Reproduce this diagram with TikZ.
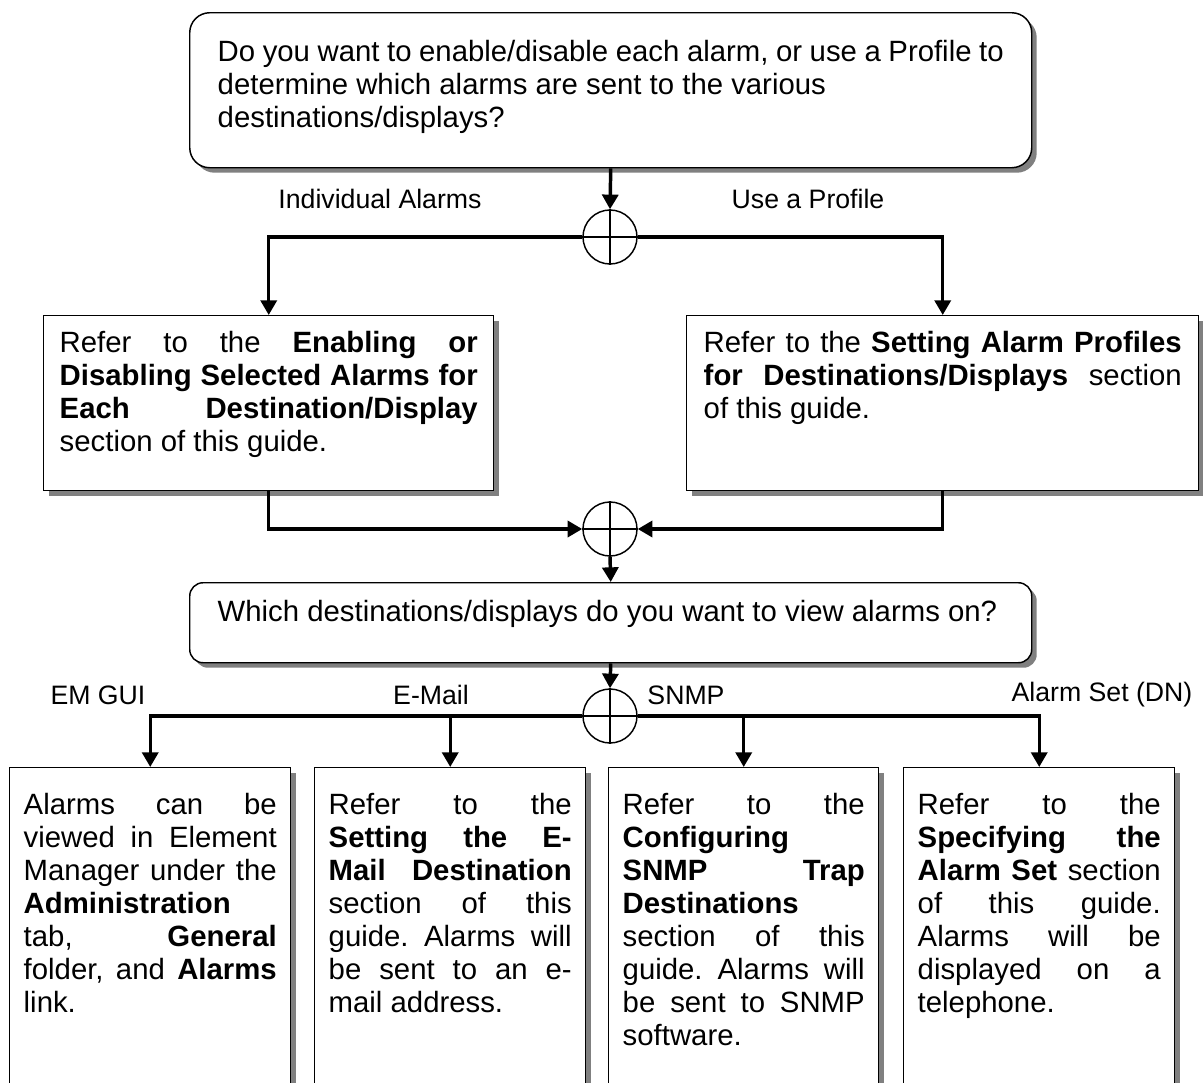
\documentclass[tikz,border=0pt]{standalone}
\usepackage{fontspec}
\setmainfont{Liberation Sans}
\usetikzlibrary{arrows.meta,shadows}
\frenchspacing

% top-aligned box text: height, width, top gap, text
\newcommand{\boxbody}[4]{\parbox[c][#1][t]{#2}{\spaceskip=.278em plus 20em minus .06em\relax
    \tolerance=10000\hbadness=10000\vspace*{#3}\strut #4}}

\begin{document}
\begin{tikzpicture}[
        x=0.75pt, y=-0.75pt,
        >={Triangle[length=11pt,width=12pt]},
        card/.style={draw, line width=1.1pt, fill=white, anchor=north west, inner ysep=0pt,
            font=\fontsize{22}{24.75}\selectfont,
            drop shadow={shadow xshift=3.75pt, shadow yshift=-3.75pt, fill=black!50, opacity=1}},
        junction/.style={circle, draw, fill=white, line width=1.1pt, minimum size=40.5pt, inner sep=0pt},
        flow/.style={->, line width=2.6pt},
        branch/.style={font=\fontsize{20}{24}\selectfont}
    ]

    \clip (0,0) rectangle (1203,1082);

    % Questions
    \node[card, rounded corners=15pt, inner xsep=21pt] (profileq) at (189,12)
        {\boxbody{116.25pt}{589.5pt}{19pt}{\raggedright Do you want to enable/disable each alarm, or use a Profile to\\
        determine which alarms are sent to the various\\ destinations/displays?}};
    \node[card, rounded corners=10pt, inner xsep=21pt] (destq) at (189,582)
        {\boxbody{60pt}{589.5pt}{11.9pt}{\raggedright Which destinations/displays do you want to view alarms on?}};

    % Middle boxes
    \node[card, inner xsep=12pt] (enable) at (43,315)
        {\boxbody{131.25pt}{313.5pt}{10.4pt}{Refer to the \textbf{Enabling or}\linebreak
        \textbf{Disabling Selected Alarms for}\linebreak \textbf{Each Destination/Display}\linebreak
        section of this guide.}};
    \node[card, inner xsep=12.75pt] (profile) at (686,315)
        {\boxbody{131.25pt}{358.5pt}{10.4pt}{Refer to the \textbf{Setting Alarm Profiles}\linebreak
        \textbf{for Destinations/Displays} section\linebreak of this guide.}};

    % Destination boxes
    \node[card, inner xsep=10.5pt] (emgui) at (9,767)
        {\boxbody{247.5pt}{189.75pt}{17.9pt}{Alarms can be\linebreak viewed in Element\linebreak
        Manager under the\linebreak \textbf{Administration}\\ tab, \textbf{General}\linebreak
        folder, and \textbf{Alarms}\linebreak link.}};
    \node[card, inner xsep=10.5pt] (email) at (314,767)
        {\boxbody{247.5pt}{182.25pt}{17.9pt}{Refer to the\linebreak \textbf{Setting the E-\linebreak
        Mail Destination}\linebreak section of this\linebreak guide. Alarms will\linebreak
        be sent to an e-\linebreak mail address.}};
    \node[card, inner xsep=10.5pt] (snmp) at (608,767)
        {\boxbody{247.5pt}{181.5pt}{17.9pt}{Refer to the\linebreak \textbf{Configuring}\\
        \textbf{SNMP Trap}\linebreak \textbf{Destinations}\\ section of this\linebreak
        guide. Alarms will\linebreak be sent to SNMP\linebreak software.}};
    \node[card, inner xsep=10.5pt] (alarmset) at (903,767)
        {\boxbody{247.5pt}{182.25pt}{17.9pt}{Refer to the\linebreak \textbf{Specifying the}\linebreak
        \textbf{Alarm Set} section\linebreak of this guide.\linebreak Alarms will be\linebreak
        displayed on a\linebreak telephone.}};

    % Junctions
    \node[junction] (j1) at (610,237) {};
    \node[junction] (j2) at (610,529) {};
    \node[junction] (j3) at (610,716) {};
    \foreach \j in {j1,j2,j3}
        \draw[line width=1.1pt] (\j.north) -- (\j.south) (\j.west) -- (\j.east);

    % Branch labels
    \node[branch] (lindiv) at (380,199) {Individual Alarms};
    \node[branch] (lprof) at (808,199) {Use a Profile};
    \node[branch] (lgui) at (98,695) {EM GUI};
    \node[branch] (lmail) at (431,695) {E-Mail};
    \node[branch] (lsnmp) at (686,695) {SNMP};
    \node[branch] (lset) at (1102,695) {Alarm Set (DN)};

    % Connectors
    \draw[flow] (profileq.south) -- (j1.north);
    \draw[flow] (j1.west) -| (enable.north);
    \draw[flow] (j1.east) -| (profile.north);
    \draw[flow] (enable.south) |- (j2.west);
    \draw[flow] (profile.south) |- (j2.east);
    \draw[flow] (j2.south) -- (destq.north);
    \draw[flow] (destq.south) -- (j3.north);
    \draw[flow] (j3.west) -| (email.north);
    \draw[flow] (j3.west) -| (emgui.north);
    \draw[flow] (j3.east) -| (snmp.north);
    \draw[flow] (j3.east) -| (alarmset.north);

\end{tikzpicture}
\end{document}
